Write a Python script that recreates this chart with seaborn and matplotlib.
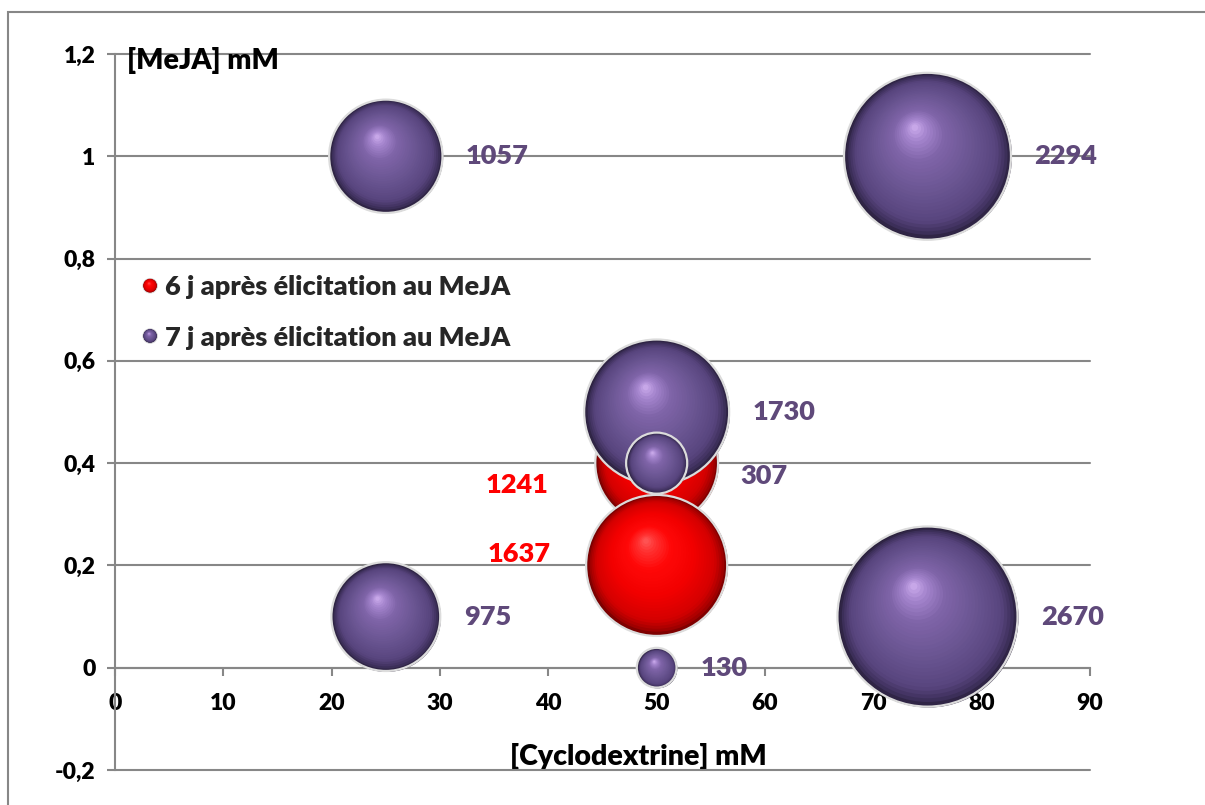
import numpy as np
import pandas as pd
import seaborn as sns
import matplotlib
matplotlib.use("Agg")
import matplotlib.pyplot as plt
from matplotlib.path import Path
from matplotlib.markers import MarkerStyle
from matplotlib.patches import Circle, Rectangle, Patch
from matplotlib.legend_handler import HandlerBase
from matplotlib.colors import to_rgb
from matplotlib.ticker import FixedLocator, FuncFormatter

# ---------------- data ----------------
series_names = ["6 j après élicitation au MeJA", "7 j après élicitation au MeJA"]

x_6j = [50, 50]
y_6j = [0.4, 0.2]
values_6j = [1241, 1637]

x_7j = [25, 75, 50, 50, 25, 75, 50]
y_7j = [1.0, 1.0, 0.5, 0.4, 0.1, 0.1, 0.0]
values_7j = [1057, 2294, 1730, 307, 975, 2670, 130]

x_ticks = [0, 10, 20, 30, 40, 50, 60, 70, 80, 90]
y_ticks = [-0.2, 0.0, 0.2, 0.4, 0.6, 0.8, 1.0, 1.2]
x_title = "[Cyclodextrine] mM"
y_title = "[MeJA] mM"

# label offsets (points) relative to bubble centre; None -> automatic right of bubble
label_offsets_6j = [(-78, -16), (-76, 8)]
label_offsets_7j = [None, None, None, (60, -9), None, None, None]

# ---------------- styles ----------------
PURPLE_TXT = "#5F497A"
RED_TXT = "#FF0000"
GRAY = "#878787"
purple_stops = [(1.0, "#2A203C"), (0.95, "#3E305C"), (0.85, "#58457E"), (0.6, "#6A5592"),
                (0.32, "#7F64A8"), (0.14, "#A585CE"), (0.0, "#D4B4F2")]
red_stops = [(1.0, "#700000"), (0.95, "#A40000"), (0.85, "#D40000"), (0.6, "#F20000"),
             (0.32, "#FF0808"), (0.14, "#FF3030"), (0.0, "#FF6060")]
HL_DIR = np.array([-0.17, 0.36])
WEIGHT = 800
LABEL_SIZE = 19.5
TITLE_SIZE = 20.5
TICK_SIZE = 16.5


def stop_color(stops, t):
    ts = [s[0] for s in stops][::-1]
    cols = np.array([to_rgb(s[1]) for s in stops])[::-1]
    return tuple(np.interp(t, ts, cols[:, c]) for c in range(3))


def sphere_marker(t):
    c = HL_DIR * (1 - t)
    circ = Path.circle(center=(c[0], c[1]), radius=t)
    verts = np.vstack([[[-1, -1], [1, 1]], circ.vertices])
    codes = np.concatenate([[Path.MOVETO, Path.MOVETO], circ.codes])
    return MarkerStyle(Path(verts, codes))


LAYERS = np.linspace(0.985, 0.04, 32)
LAYER_MARKERS = [sphere_marker(t) for t in LAYERS]

sns.set_theme(style="white")
plt.rcParams["font.family"] = "Lato"
plt.rcParams["font.weight"] = WEIGHT

fig = plt.figure(figsize=(12.05, 8.05), dpi=100)
ax = fig.add_axes([115 / 1205, 35 / 805, 975 / 1205, 716 / 805])

df = pd.DataFrame({
    "x": x_6j + x_7j,
    "y": y_6j + y_7j,
    "valeur": values_6j + values_7j,
    "serie": [series_names[0]] * len(x_6j) + [series_names[1]] * len(x_7j),
})
offsets = label_offsets_6j + label_offsets_7j

SMAX = 6.3 * max(df["valeur"])
sns.scatterplot(data=df, x="x", y="y", hue="serie", size="valeur",
                sizes=(0, SMAX), size_norm=(0, max(df["valeur"])),
                palette={series_names[0]: red_stops[0][1], series_names[1]: purple_stops[0][1]},
                edgecolor="none", linewidth=0, legend=False, ax=ax, zorder=2)
sizes = ax.collections[0].get_sizes()

for i, row in df.iterrows():
    stops = red_stops if row["serie"] == series_names[0] else purple_stops
    z = 3 + i
    ax.scatter([row["x"]], [row["y"]], s=[sizes[i]], marker="o",
               color=[stop_color(stops, 1.0)], linewidths=0, zorder=z)
    for k, (t, m) in enumerate(zip(LAYERS, LAYER_MARKERS)):
        ax.scatter([row["x"]], [row["y"]], s=[sizes[i]], marker=m,
                   color=[stop_color(stops, t)], linewidths=0, zorder=z + 0.01 * (k + 1))
    ax.scatter([row["x"]], [row["y"]], s=[sizes[i]], marker="o", facecolors="none",
               edgecolors="#DCDCDC", linewidths=1.6, zorder=z + 0.6)
    # data label
    r_pt = np.sqrt(sizes[i]) / 2
    off = offsets[i]
    if row["serie"] == series_names[0]:
        ax.annotate(f"{row['valeur']}", (row["x"], row["y"]), xytext=off,
                    textcoords="offset points", ha="right", va="center",
                    color=RED_TXT, fontsize=LABEL_SIZE, fontweight=WEIGHT, zorder=20)
    else:
        if off is None:
            off = (r_pt + 17, 0)
        ax.annotate(f"{row['valeur']}", (row["x"], row["y"]), xytext=off,
                    textcoords="offset points", ha="left", va="center",
                    color=PURPLE_TXT, fontsize=LABEL_SIZE, fontweight=WEIGHT, zorder=20)

# ---------------- axes ----------------
ax.set_xlim(0, 90)
ax.set_ylim(-0.2, 1.2)
ax.xaxis.set_major_locator(FixedLocator(x_ticks))
ax.yaxis.set_major_locator(FixedLocator(y_ticks))
fmt = FuncFormatter(lambda v, p: f"{round(v, 1):g}".replace(".", ","))
ax.xaxis.set_major_formatter(fmt)
ax.yaxis.set_major_formatter(fmt)

for s in ["top", "right"]:
    ax.spines[s].set_visible(False)
ax.spines["bottom"].set_position(("data", 0))
for s in ["left", "bottom"]:
    ax.spines[s].set_color(GRAY)
    ax.spines[s].set_linewidth(1.5)
    ax.spines[s].set_zorder(1.5)

ax.yaxis.grid(True, color=GRAY, linewidth=1.5, zorder=1)
ax.xaxis.grid(False)
ax.set_axisbelow(True)
for gl in ax.get_ygridlines():
    gl.set_clip_on(False)

ax.tick_params(axis="y", direction="out", length=6, width=1.5, color=GRAY, pad=8,
               labelsize=TICK_SIZE, left=True)
ax.tick_params(axis="x", direction="out", length=5.5, width=1.5, color=GRAY, pad=12.5,
               labelsize=TICK_SIZE, bottom=True)
for lab in ax.get_xticklabels() + ax.get_yticklabels():
    lab.set_fontweight(WEIGHT)
    lab.set_color("black")

ax.set_xlabel(x_title, fontsize=TITLE_SIZE, fontweight=WEIGHT, color="black")
ax.xaxis.set_label_coords(0.537, 0.038)
ax.set_ylabel(y_title, fontsize=TITLE_SIZE, fontweight=WEIGHT, color="black",
              rotation=0, ha="left", va="top")
ax.yaxis.set_label_coords(0.0123, 1.01)


# ---------------- legend ----------------
class SphereHandler(HandlerBase):
    def __init__(self, stops):
        super().__init__()
        self.stops = stops

    def create_artists(self, legend, orig_handle, xdescent, ydescent, width, height,
                       fontsize, trans):
        cx = width / 2 - xdescent
        cy = height / 2 - ydescent
        r = 5.2
        arts = [Circle((cx, cy), r, facecolor=stop_color(self.stops, 1.0),
                       edgecolor="#DCDCDC", linewidth=0.8, transform=trans)]
        for t in np.linspace(0.95, 0.05, 14):
            c = HL_DIR * (1 - t) * r
            arts.append(Circle((cx + c[0], cy + c[1]), r * t,
                               facecolor=stop_color(self.stops, t), edgecolor="none",
                               transform=trans))
        return arts


h_red = Patch(label=series_names[0])
h_pur = Patch(label=series_names[1])
ax.legend(handles=[h_red, h_pur], labels=series_names, loc="upper left",
          bbox_to_anchor=(0.027, 0.691), frameon=False, handlelength=0.65,
          handletextpad=0.22, labelspacing=0.97, borderpad=0, borderaxespad=0,
          prop={"weight": WEIGHT, "size": LABEL_SIZE},
          handler_map={h_red: SphereHandler(red_stops), h_pur: SphereHandler(purple_stops)})

# outer chart border
fig.add_artist(Rectangle((8 / 1205, -0.1), 1.2, (805 - 12) / 805 + 0.1,
                         transform=fig.transFigure, fill=False, edgecolor=GRAY,
                         linewidth=1.5))

fig.savefig("out.png", dpi=100)
